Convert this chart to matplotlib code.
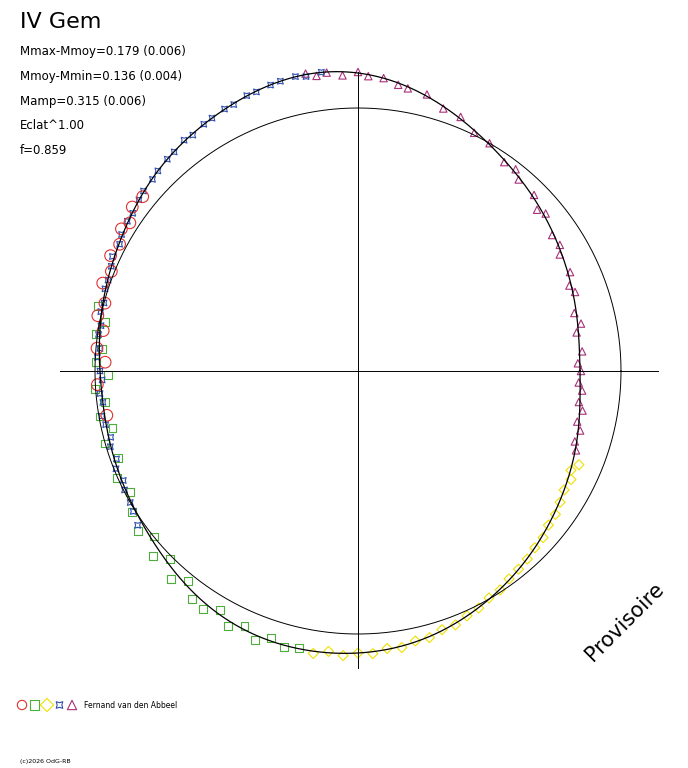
import matplotlib
matplotlib.use("Agg")
import matplotlib.pyplot as plt
import numpy as np

# geometry in pixels of the 688x768 frame
CX, CY, R0 = 358, 371, 263

fit_ang = np.arange(0, 360, 15)
fit_rad = [222, 226, 235, 247, 262, 282, 298, 300, 292, 283, 272, 264,
           258, 258, 262, 270, 280, 284, 282, 275, 263, 250, 238, 228]

mag_ang = [100, 98, 96, 93, 90, 88, 85, 82, 80, 76, 72, 68, 64, 60, 55, 52, 50, 45, 42, 40,
           35, 32, 30, 25, 22, 20, 15, 12, 10, 5, 2, 0, -3, -5, -8, -10, -13, -15, -18, -20]
mag_rad = [302, 298, 300, 296, 299, 295, 294, 289, 287, 285, 276, 274, 265, 263, 255, 256, 250, 249, 241, 245,
           237, 238, 233, 234, 228, 231, 224, 228, 222, 225, 220, 223, 221, 225, 223, 228, 225, 230, 228, 232]

blu_ang = [215, 212, 210, 207, 205, 202, 200, 197, 195, 192, 190, 187, 185, 182, 180, 177, 175, 172, 170, 167,
           165, 162, 160, 157, 155, 152, 150, 147, 145, 142, 140, 137, 135, 132, 130, 127, 125, 122, 120, 117,
           115, 112, 110, 107, 105, 102, 100, 97]
blu_rad = [269, 265, 263, 262, 259, 261, 257, 259, 256, 258, 260, 257, 259, 256, 258, 261, 259, 262, 261, 264,
           263, 266, 266, 268, 271, 270, 273, 275, 275, 278, 280, 281, 283, 285, 286, 289, 288, 291, 292, 294,
           294, 297, 297, 299, 300, 301, 299, 301]

red_ang = [190, 183, 178, 175, 171, 168, 165, 161, 158, 155, 152, 149, 147, 144, 141]
red_rad = [255, 261, 253, 262, 258, 266, 262, 270, 266, 273, 270, 276, 272, 279, 277]

grn_ang = [258, 255, 252, 249, 246, 243, 240, 237, 234, 231, 228, 225, 222, 219, 216, 212, 208, 204, 200, 196, 193,
           190, 187, 184, 181, 178, 175, 172, 169, 166]
grn_rad = [283, 286, 281, 288, 279, 286, 276, 284, 282, 270, 280, 266, 276, 263, 272, 266, 258, 264, 255, 263, 252,
           262, 255, 264, 250, 262, 257, 265, 258, 268]

yel_ang = [337, 335, 333, 330, 327, 324, 321, 318, 315, 312, 309, 306, 303, 300, 297, 294, 291, 288,
           285, 282, 279, 276, 273, 270, 267, 264, 261]
yel_rad = [240, 235, 239, 238, 241, 244, 245, 249, 250, 253, 255, 257, 261, 262, 266, 268, 272, 272,
           276, 276, 280, 279, 283, 282, 285, 282, 286]


def xy(ang, rad):
    a = np.radians(np.asarray(ang, float))
    r = np.asarray(rad, float)
    return CX + r * np.cos(a), CY - r * np.sin(a)


def smooth_closed(ang, rad, n=720):
    # trigonometric interpolation through the knots, just for drawing the curve
    c = np.fft.rfft(rad) / len(rad)
    tt = np.linspace(0, 2 * np.pi, n)
    out = np.full(n, c[0].real)
    for k in range(1, len(c)):
        w = 1 if (len(rad) % 2 == 0 and k == len(c) - 1) else 2
        out += w * (c[k].real * np.cos(k * tt) - c[k].imag * np.sin(k * tt))
    return np.degrees(tt), out


fig = plt.figure(figsize=(6.88, 7.68), dpi=100)
ax = fig.add_axes([0, 0, 1, 1])
ax.set_xlim(0, 688)
ax.set_ylim(768, 0)
ax.axis("off")

# axes cross and reference circle
ax.plot([60, 658], [CY, CY], color="black", lw=0.7)
ax.plot([CX, CX], [72, 668], color="black", lw=0.7)
t = np.linspace(0, 2 * np.pi, 400)
ax.plot(CX + R0 * np.cos(t), CY - R0 * np.sin(t), color="black", lw=0.7)

# fitted curve
sa, sr = smooth_closed(fit_ang, np.array(fit_rad, float))
fx, fy = xy(sa, sr)
ax.plot(fx, fy, color="black", lw=0.9)

series = [
    (grn_ang, grn_rad, "s", "#4caf3a", 32),
    (yel_ang, yel_rad, "D", "#f0e000", 26),
    (mag_ang, mag_rad, "^", "#a8307a", 28),
    (blu_ang, blu_rad, (4, 1, 45), "#3050b0", 34),
    (red_ang, red_rad, "o", "#e03030", 70),
]
for a, r, m, c, s in series:
    x, y = xy(a, r)
    ax.scatter(x, y, marker=m, s=s, facecolors="none", edgecolors=c, linewidths=0.8)

ax.text(20, 22, "IV Gem", fontsize=16, va="center")
info = ["Mmax-Mmoy=0.179 (0.006)", "Mmoy-Mmin=0.136 (0.004)",
        "Mamp=0.315 (0.006)", "Eclat^1.00", "f=0.859"]
for i, s in enumerate(info):
    ax.text(20, 52 + 24.5 * i, s, fontsize=8.5, va="center")

ax.text(625, 622, "Provisoire", fontsize=15, rotation=45, ha="center", va="center")

leg = [("o", "#e03030"), ("s", "#4caf3a"), ("D", "#f0e000"), ((4, 1, 45), "#3050b0"), ("^", "#a8307a")]
for i, (m, c) in enumerate(leg):
    ax.scatter(22 + 12.5 * i, 705, marker=m, s=45, facecolors="none", edgecolors=c, linewidths=0.8)
ax.text(84, 705, "Fernand van den Abbeel", fontsize=5.5, va="center")
ax.text(20, 761, "(c)2026 OdG-RB", fontsize=4.5, va="center")

fig.savefig("out.png", dpi=100)
